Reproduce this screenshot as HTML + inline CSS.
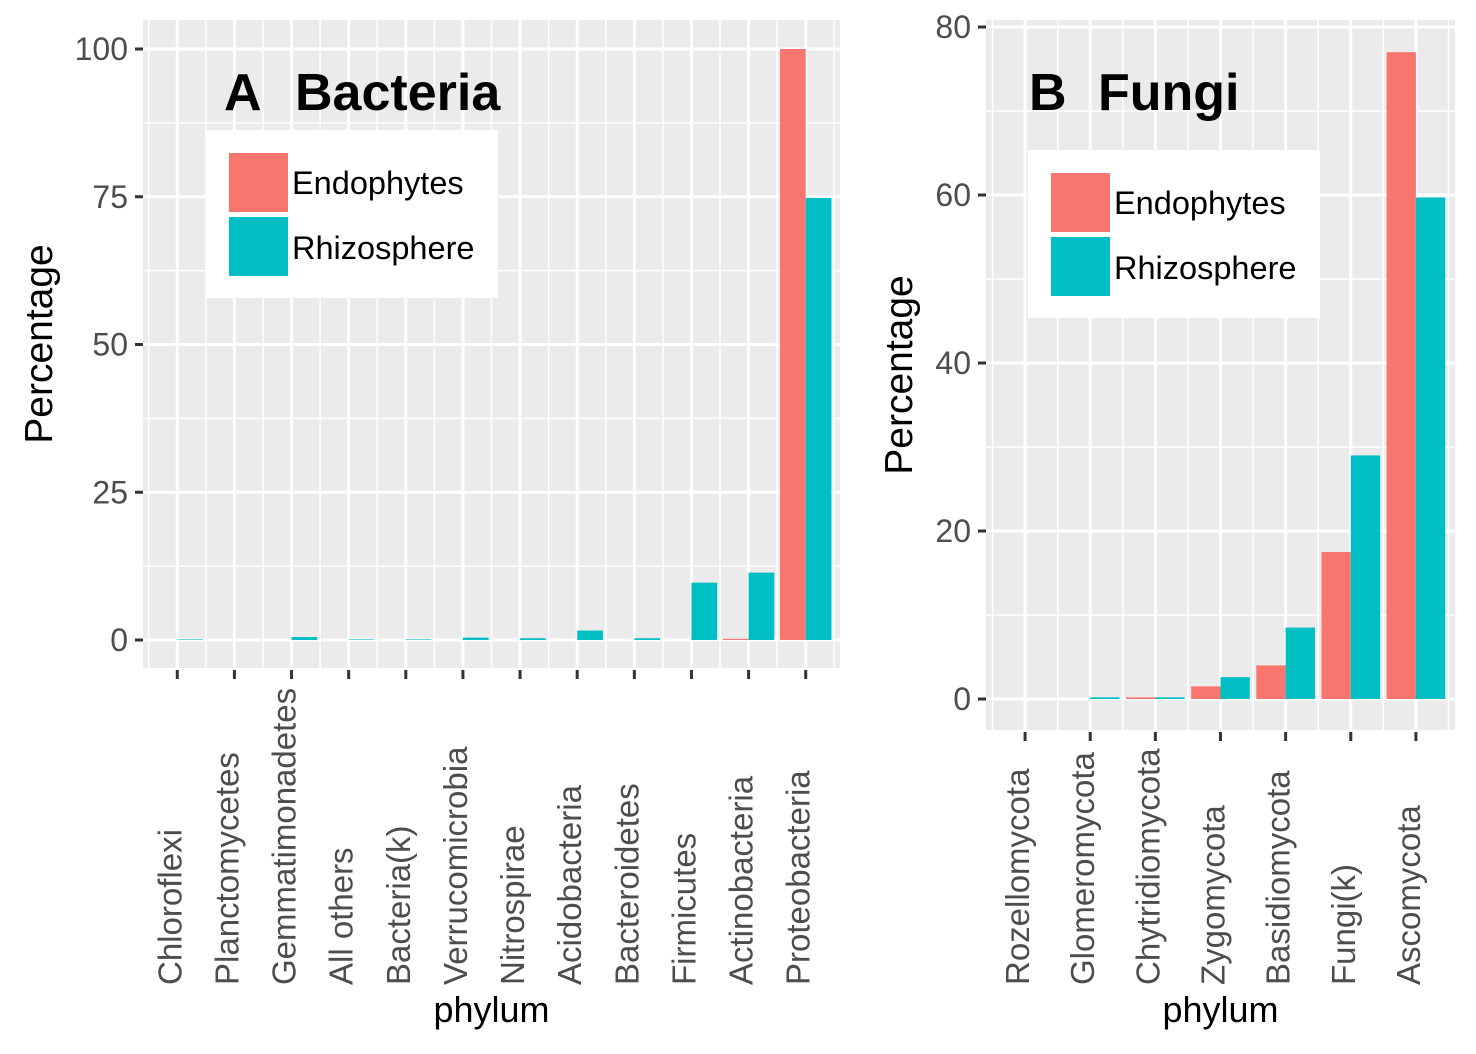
<!DOCTYPE html>
<html><head><meta charset="utf-8"><style>
html,body{margin:0;padding:0;background:#fff;}
svg{display:block;font-family:"Liberation Sans",Arial,sans-serif;}
</style></head><body>
<svg id="chart" width="1476" height="1054" xmlns="http://www.w3.org/2000/svg"></svg>
<script>
const catsA = ["Chloroflexi","Planctomycetes","Gemmatimonadetes","All others","Bacteria(k)","Verrucomicrobia","Nitrospirae","Acidobacteria","Bacteroidetes","Firmicutes","Actinobacteria","Proteobacteria"];
const endoA = [0,0,0,0,0,0,0,0,0,0,0.2,100];
const rhizoA = [0.1,0,0.5,0.1,0.1,0.4,0.3,1.6,0.3,9.7,11.4,74.8];
const ticksA = [0,25,50,75,100];
const catsB = ["Rozellomycota","Glomeromycota","Chytridiomycota","Zygomycota","Basidiomycota","Fungi(k)","Ascomycota"];
const endoB = [0,0,0.2,1.5,4,17.5,77];
const rhizoB = [0,0.2,0.2,2.6,8.5,29,59.7];
const ticksB = [0,20,40,60,80];

const NS="http://www.w3.org/2000/svg";
const svg=document.getElementById('chart');
function el(tag,attrs,parent,text){const e=document.createElementNS(NS,tag);for(const k in attrs)e.setAttribute(k,attrs[k]);if(text!==undefined)e.textContent=text;(parent||svg).appendChild(e);return e;}

function panel(p){
  const g=el('g',{});
  
  
  const bg=el('rect',{x:p.x0,y:p.y0,width:p.x1-p.x0,height:p.y1-p.y0,fill:'#EBEBEB'},g);
  
  
  const y=v=>p.yz+(p.yt-p.yz)*(v/p.ymax);
  const n=p.cats.length;
  const step=(p.x1-p.x0)/(n+0.2);
  const x=i=>p.x0+step*(0.6+i);
  const dt=p.ticks[1]-p.ticks[0];
  for(let i=-1;i<p.ticks.length;i++){
    const yy=y(p.ticks[0]+dt*(i+0.5));
    if(yy>p.y0 && yy<p.y1) el('line',{x1:p.x0,x2:p.x1,y1:yy,y2:yy,stroke:'#fff','stroke-width':1.5},g);
  }
  for(let i=0;i<=n;i++){const xx=x(i)-step/2; if(xx>p.x0) el('line',{x1:xx,x2:xx,y1:p.y0,y2:p.y1,stroke:'#fff','stroke-width':1.5},g);}
  p.ticks.forEach(t=>{
    const yy=y(t);
    el('line',{x1:p.x0,x2:p.x1,y1:yy,y2:yy,stroke:'#fff','stroke-width':3},g);
    el('line',{x1:p.x0-8,x2:p.x0,y1:yy,y2:yy,stroke:'#333','stroke-width':3},g);
    const lb=el('text',{x:p.x0-15,y:yy+11,'text-anchor':'end','font-size':32,fill:'#4d4d4d'},g,String(t));
    
    
  });
  p.cats.forEach((c,i)=>{
    const xx=x(i);
    el('line',{x1:xx,x2:xx,y1:p.y0,y2:p.y1,stroke:'#fff','stroke-width':3},g);
  });
  const bw=step*0.45;
  p.cats.forEach((c,i)=>{
    const xx=x(i);
    const r1=el('rect',{x:xx-bw,y:y(p.endo[i]),width:bw,height:Math.max(0,y(0)-y(p.endo[i])),fill:'#F8766D'},g);
    
    
    const r2=el('rect',{x:xx,y:y(p.rhizo[i]),width:bw,height:Math.max(0,y(0)-y(p.rhizo[i])),fill:'#00BFC4'},g);
    
    
    el('line',{x1:xx,x2:xx,y1:p.y1+2,y2:p.y1+11,stroke:'#333','stroke-width':3},g);
    const t=el('text',{x:0,y:0,'text-anchor':'start','font-size':33,fill:'#4d4d4d',transform:`translate(${xx+4},985) rotate(-90)`},g,c);
    
    
  });
  const tl=el('text',{x:p.titleX,y:110,'font-size':52,'font-weight':'bold',fill:'#000'},g,p.t1);
  
  
  const tt=el('text',{x:p.titleX2,y:110,'font-size':52,'font-weight':'bold',fill:'#000'},g,p.t2);
  
  
  const lg=el('g',{},g);
  
  
  el('rect',{x:p.lx,y:p.ly,width:292,height:168,fill:'#fff'},lg);
  el('rect',{x:p.lx+23,y:p.ly+23,width:59,height:59,fill:'#F8766D'},lg);
  el('rect',{x:p.lx+23,y:p.ly+87,width:59,height:59,fill:'#00BFC4'},lg);
  el('text',{x:p.lx+86,y:p.ly+64,'font-size':32.5,fill:'#000'},lg,'Endophytes');
  el('text',{x:p.lx+86,y:p.ly+129,'font-size':32.5,fill:'#000'},lg,'Rhizosphere');
  const yl=el('text',{x:0,y:0,'text-anchor':'middle','font-size':39,fill:'#000',transform:`translate(${p.ytx},${p.ytc}) rotate(-90)`},g,'Percentage');
  
  
  const xl=el('text',{x:(p.x0+p.x1)/2,y:1022,'text-anchor':'middle','font-size':36,fill:'#000'},g,'phylum');
  
  
}
panel({name:'panel-a-bacteria',x0:143,x1:840,y0:20,y1:668,yz:640,yt:49,ymax:100,ticks:ticksA,cats:catsA,endo:endoA,rhizo:rhizoA,t1:'A',t2:'Bacteria',titleX:224,titleX2:295,lx:206,ly:130,ytx:52,ytc:344});
panel({name:'panel-b-fungi',x0:986,x1:1455,y0:20,y1:730,yz:699,yt:27,ymax:80,ticks:ticksB,cats:catsB,endo:endoB,rhizo:rhizoB,t1:'B',t2:'Fungi',titleX:1029,titleX2:1098,lx:1028,ly:150,ytx:912,ytc:375});
</script>
</body></html>
